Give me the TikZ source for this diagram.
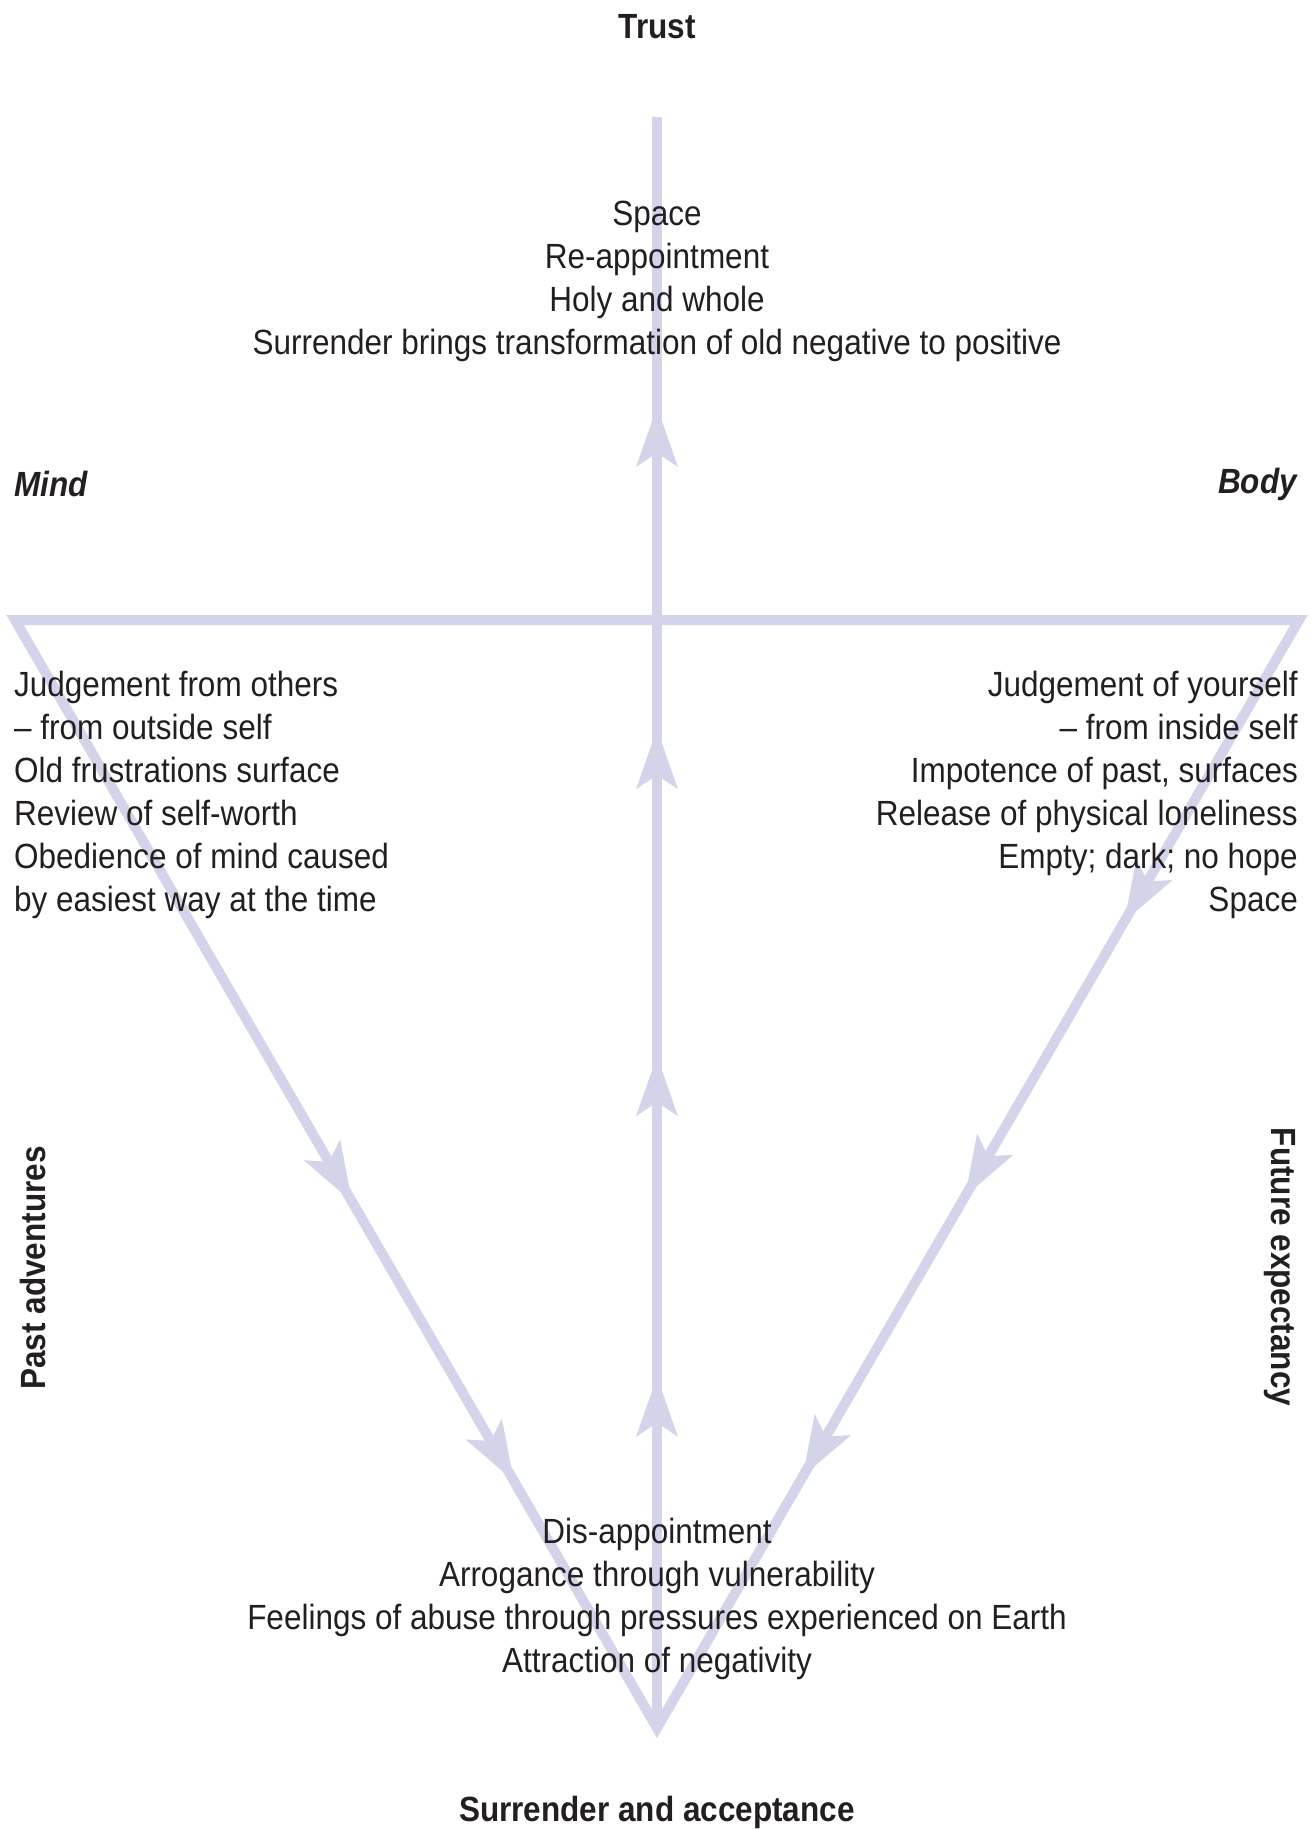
\documentclass[tikz,border=0pt]{standalone}
\usepackage{fontspec}
\setmainfont[FakeStretch=0.9]{Liberation Sans}
\usetikzlibrary{decorations.markings}
\definecolor{lav}{RGB}{211,211,234}
\definecolor{ink}{RGB}{35,31,32}
\tikzset{
  axisline/.style={draw=lav, line width=10pt},
  body/.style={text=ink, font=\fontsize{35}{43}\selectfont, inner sep=0pt},
  bodyb/.style={text=ink, font=\fontsize{35}{43}\selectfont\bfseries, inner sep=0pt}
}
\newcommand{\headat}[1]{\fill[lav] (0,0) -- (-60,21) -- (-46,0) -- (-60,-21) -- cycle;}
\begin{document}
\begin{tikzpicture}[x=1pt,y=-1pt]
\useasboundingbox (0,0) rectangle (1310,1829);
\coordinate (A) at (657,1728);
\coordinate (L) at (15,620);
\coordinate (R) at (1299,620);
\coordinate (T) at (657,117);
% triangle
\draw[axisline, line join=miter] (L) -- (R) -- (A) -- cycle;
% vertical
\draw[axisline] (A) -- (T);
% arrowheads
\path[postaction={decorate}, decoration={markings,
  mark=at position 0.218 with {\headat{}},
  mark=at position 0.417 with {\headat{}},
  mark=at position 0.620 with {\headat{}},
  mark=at position 0.820 with {\headat{}}}] (A) -- (T);
\path[postaction={decorate}, decoration={markings,
  mark=at position 0.525 with {\headat{}},
  mark=at position 0.777 with {\headat{}}}] (L) -- (A);
\path[postaction={decorate}, decoration={markings,
  mark=at position 0.272 with {\headat{}},
  mark=at position 0.520 with {\headat{}},
  mark=at position 0.773 with {\headat{}}}] (R) -- (A);
% labels
\node[bodyb] (trust) at (657,27) {Trust};
\node[bodyb] (surr) at (657,1812) {Surrender and acceptance};
\node[bodyb, anchor=west] (mind) at (14,484) {\itshape Mind};
\node[bodyb, anchor=east] (bodyl) at (1297,484) {\itshape Body};
\node[bodyb, rotate=90] (past) at (33,1268) {Past adventures};
\node[bodyb, rotate=-90] (fut) at (1280,1267) {Future expectancy};
% text blocks
\node[body, align=center] (top) at (657,281) {Space\\Re-appointment\\Holy and whole\\Surrender brings transformation of old negative to positive};
\node[body, align=left, anchor=west] (left) at (14,795) {Judgement from others\\– from outside self\\Old frustrations surface\\Review of self-worth\\Obedience of mind caused\\by easiest way at the time};
\node[body, align=right, anchor=east] (right) at (1298,795) {Judgement of yourself\\– from inside self\\Impotence of past, surfaces\\Release of physical loneliness\\Empty; dark; no hope\\Space};
\node[body, align=center] (bot) at (657,1599) {Dis-appointment\\Arrogance through vulnerability\\Feelings of abuse through pressures experienced on Earth\\Attraction of negativity};
\end{tikzpicture}
\end{document}
